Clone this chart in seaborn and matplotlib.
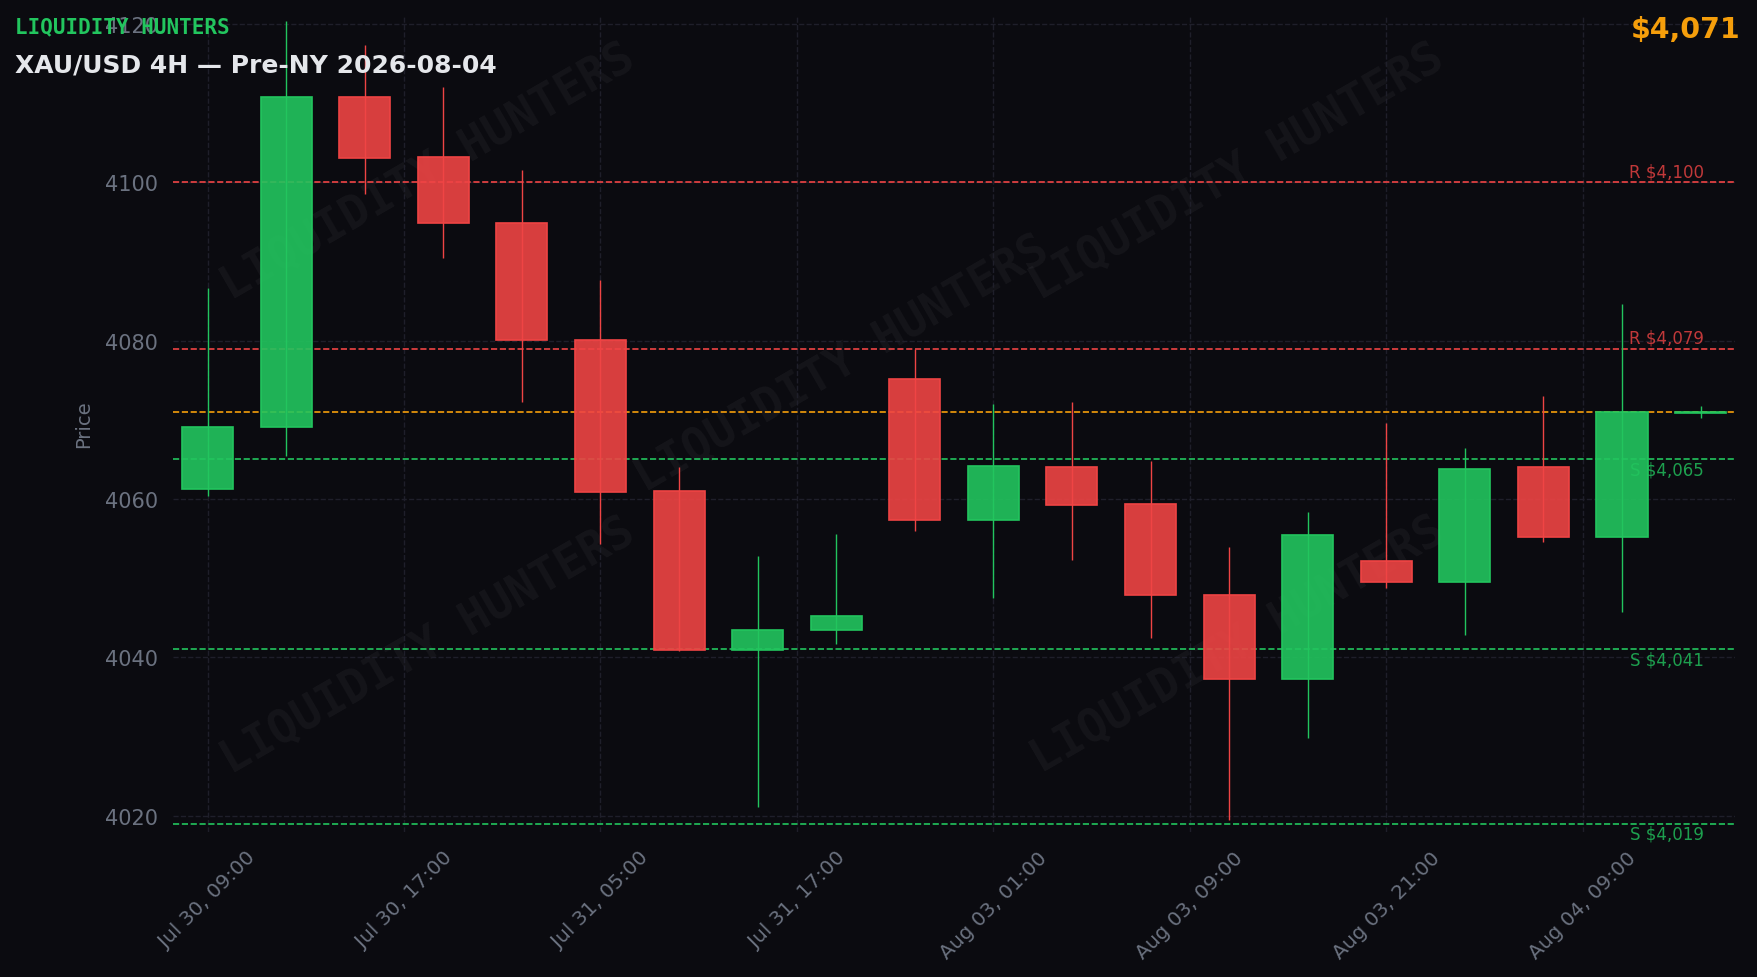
import numpy as np
import pandas as pd
import matplotlib
matplotlib.use("Agg")
import matplotlib.pyplot as plt
import seaborn as sns

# ---- candle data (4H XAU/USD) ----
opens  = [4061.3, 4069.1, 4110.8, 4103.2, 4094.9, 4080.1, 4061.0, 4040.9, 4043.5, 4075.2,
          4057.4, 4064.1, 4059.4, 4047.9, 4037.2, 4052.2, 4049.5, 4064.0, 4055.2, 4070.9]
highs  = [4086.7, 4120.4, 4117.4, 4112.0, 4101.6, 4087.7, 4064.0, 4052.8, 4055.6, 4079.0,
          4072.0, 4072.2, 4064.8, 4053.9, 4058.3, 4069.6, 4066.4, 4073.0, 4084.6, 4071.8]
lows   = [4060.4, 4065.4, 4098.5, 4090.5, 4072.3, 4054.3, 4040.8, 4021.1, 4041.7, 4056.0,
          4047.5, 4052.3, 4042.4, 4019.4, 4029.8, 4048.8, 4042.8, 4054.6, 4045.7, 4070.3]
closes = [4069.1, 4110.8, 4103.1, 4094.9, 4080.1, 4060.9, 4040.9, 4043.5, 4045.2, 4057.4,
          4064.2, 4059.3, 4047.9, 4037.2, 4055.5, 4049.5, 4063.8, 4055.2, 4071.0, 4071.0]

tick_pos = [0, 2.5, 5, 7.5, 10, 12.5, 15, 17.5]
tick_labels = ['Jul 30, 09:00', 'Jul 30, 17:00', 'Jul 31, 05:00', 'Jul 31, 17:00',
               'Aug 03, 01:00', 'Aug 03, 09:00', 'Aug 03, 21:00', 'Aug 04, 09:00']

resistance = [4100, 4079]
support = [4065, 4041, 4019]
current_price = 4071

BG = '#0b0b10'
GREEN = '#22c55e'
RED = '#ef4444'
ORANGE = '#f59e0b'
GREY = '#6b7280'

sns.set_theme(style='dark')
plt.rcParams.update({
    'figure.facecolor': BG,
    'axes.facecolor': BG,
    'savefig.facecolor': BG,
    'axes.edgecolor': BG,
    'text.color': GREY,
    'xtick.color': GREY,
    'ytick.color': GREY,
    'axes.labelcolor': GREY,
})
plt.rcParams['font.family'] = ['DejaVu Sans']

df = pd.DataFrame({'open': opens, 'high': highs, 'low': lows, 'close': closes})
df['x'] = np.arange(len(df))
df['up'] = df['close'] >= df['open']
df['color'] = np.where(df['up'], GREEN, RED)

fig = plt.figure(figsize=(17.58, 9.78), dpi=100)
ax = fig.add_axes([0.0984, 0.148, 0.8886, 0.836])

# watermark
for wx, wy in [(0.163, 0.808), (0.681, 0.808), (0.428, 0.574), (0.163, 0.228), (0.682, 0.230)]:
    ax.text(wx, wy, 'LIQUIDITY HUNTERS', transform=ax.transAxes, rotation=30,
            ha='center', va='center', fontsize=33, fontweight='bold',
            family='DejaVu Sans Mono', color='white', alpha=0.045, zorder=0.5)

# wicks
ax.vlines(df['x'], df['low'], df['high'], colors=df['color'], linewidth=1.0, zorder=2)

# bodies
body_bottom = df[['open', 'close']].min(axis=1)
body_height = (df['close'] - df['open']).abs().clip(lower=0.1)
ax.bar(df['x'], body_height, bottom=body_bottom, width=0.65,
       color=[matplotlib.colors.to_rgba(c, 0.9) for c in df['color']],
       edgecolor=df['color'], linewidth=1.2, zorder=3)

# key levels
for lvl in resistance:
    ax.axhline(lvl, color=RED, linestyle='--', linewidth=1.2, zorder=1.5)
    ax.text(0.98, lvl + 0.3, f'R ${lvl:,}', transform=ax.get_yaxis_transform(),
            ha='right', va='bottom', fontsize=12, color=RED, alpha=0.8)
for lvl in support:
    ax.axhline(lvl, color=GREEN, linestyle='--', linewidth=1.2, zorder=1.5)
    ax.text(0.98, lvl - 0.15, f'S ${lvl:,}', transform=ax.get_yaxis_transform(),
            ha='right', va='top', fontsize=12, color=GREEN, alpha=0.8)
ax.axhline(current_price, color=ORANGE, linestyle='--', linewidth=1.2, zorder=1.5)

ax.set_xlim(-0.44, 19.44)
ax.set_ylim(4017.9, 4121.2)
ax.set_yticks([4020, 4040, 4060, 4080, 4100, 4120])
ax.set_xticks(tick_pos)
ax.set_xticklabels(tick_labels, rotation=45, ha='center')
ax.tick_params(axis='both', labelsize=14.5, length=5, width=1, color=GREY, pad=6)
ax.tick_params(axis='y', labelsize=15)
ax.set_ylabel('Price', fontsize=14, labelpad=8)
ax.grid(True, color='#1f1f2a', linestyle='--', linewidth=1.0)
for s in ax.spines.values():
    s.set_visible(False)

fig.text(0.0085, 0.9663, 'LIQUIDITY HUNTERS', family='DejaVu Sans Mono', fontweight='bold',
         fontsize=15, color=GREEN, va='baseline', ha='left')
fig.text(0.0085, 0.926, 'XAU/USD 4H — Pre-NY 2026-08-04', fontweight='bold',
         fontsize=18, color='#e5e7eb', va='baseline', ha='left')
fig.text(0.9903, 0.9608, f'${current_price:,}', fontweight='bold',
         fontsize=20.5, color=ORANGE, va='baseline', ha='right')

fig.savefig('out.png', dpi=100, facecolor=BG)
